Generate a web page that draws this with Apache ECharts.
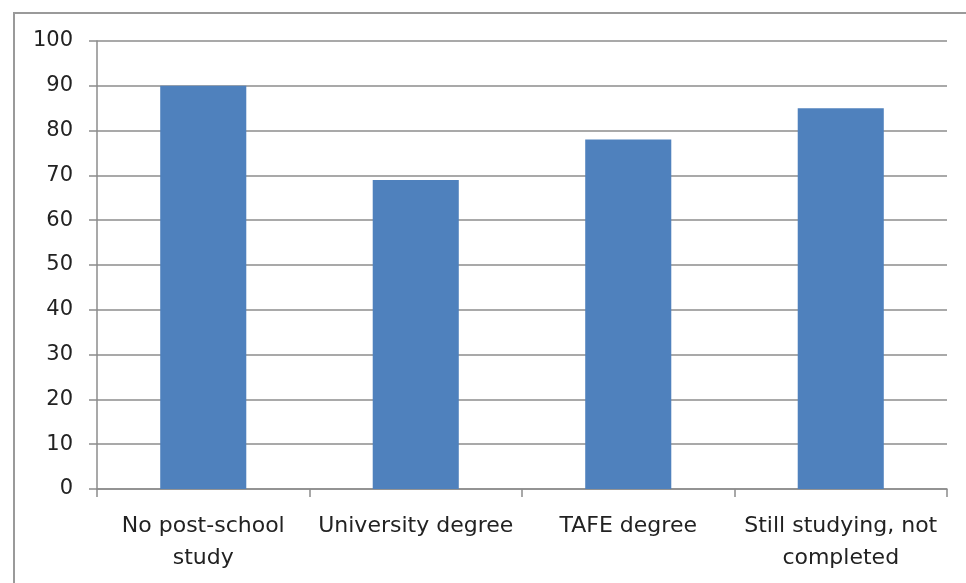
<!DOCTYPE html>
<html>
<head>
<meta charset="utf-8">
<script src="https://cdn.jsdelivr.net/npm/echarts@6/dist/echarts.min.js"></script>
<style>
  html, body { margin: 0; padding: 0; background: #ffffff; overflow: hidden; }
  #chart { width: 966px; height: 583px; }
</style>
</head>
<body>
<div id="chart"></div>
<script>
// Categories along the x axis (line breaks as they wrap under each bar)
const categories = [
  'No post-school\nstudy',
  'University degree',
  'TAFE degree',
  'Still studying, not\ncompleted'
];

// Percentage values, one per category
const values = [90, 69, 78, 85];

// Value axis range and step
const yMin = 0;
const yMax = 100;
const yStep = 10;

const gridColor = '#8c8c8c';
const textColor = '#222222';
const barColor = '#4f81bd';

const chart = echarts.init(document.getElementById('chart'), null, { renderer: 'canvas' });

chart.setOption({
  animation: false,
  backgroundColor: '#ffffff',
  grid: { left: 97, right: 19, top: 41, bottom: 94, containLabel: false },
  graphic: [
    {
      // chart-area frame: left edge
      type: 'line',
      shape: { x1: 14, y1: 12, x2: 14, y2: 600 },
      style: { stroke: '#9a9a9a', lineWidth: 2 },
      silent: true
    },
    {
      // chart-area frame: top edge
      type: 'line',
      shape: { x1: 13, y1: 13, x2: 966, y2: 13 },
      style: { stroke: '#9a9a9a', lineWidth: 2 },
      silent: true
    }
  ],
  xAxis: {
    type: 'category',
    data: categories,
    axisLine: { show: true, lineStyle: { color: gridColor, width: 1.5 } },
    axisTick: { show: true, length: 8, alignWithLabel: false, lineStyle: { color: gridColor, width: 1.5 } },
    axisLabel: {
      color: textColor,
      fontFamily: 'DejaVu Sans',
      fontSize: 22,
      lineHeight: 32,
      margin: 21,
      interval: 0
    },
    splitLine: { show: false }
  },
  yAxis: {
    type: 'value',
    min: yMin,
    max: yMax,
    interval: yStep,
    axisLine: { show: true, lineStyle: { color: gridColor, width: 1.5 } },
    axisTick: { show: true, length: 8, lineStyle: { color: gridColor, width: 1.5 } },
    axisLabel: {
      color: textColor,
      fontFamily: 'DejaVu Sans',
      fontSize: 21,
      margin: 24
    },
    splitLine: { show: true, lineStyle: { color: gridColor, width: 1.5 } }
  },
  series: [
    {
      type: 'bar',
      data: values,
      barWidth: '40.5%',
      itemStyle: { color: barColor }
    }
  ]
});
</script>
</body>
</html>
